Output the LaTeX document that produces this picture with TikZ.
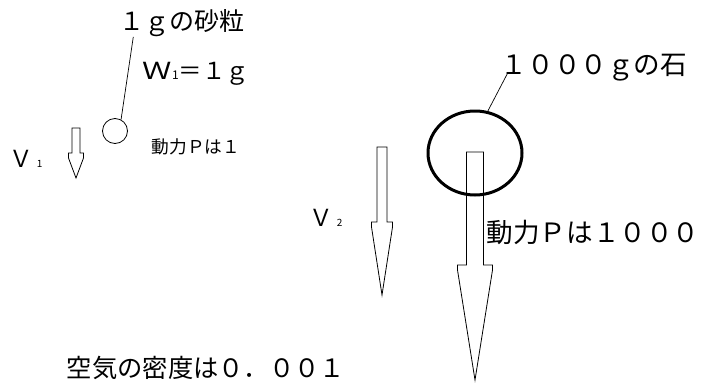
\documentclass[tikz,border=0pt]{standalone}
\usepackage{fontspec}
\setmainfont{Noto Sans CJK JP}
\usetikzlibrary{shapes.geometric,positioning,calc}

% hollow downward arrow: centre x, top, shaft half width, neck, head half width, tip
\newcommand\hollowarrow[6]{%
  \draw[hollow] (#1-#3,#2) -- (#1-#3,#4) -- (#1-#5,#4) -- (#1-#5,#4+5)
    -- (#1,#6) -- (#1+#5,#4+5) -- (#1+#5,#4) -- (#1+#3,#4) -- (#1+#3,#2) -- cycle;}

\begin{document}
\begin{tikzpicture}[
  x=1pt, y=-1pt,
  every node/.style={inner sep=0pt},
  lbl/.style={font=\fontsize{#1}{#1}\selectfont},
  lead/.style={draw=black, line width=0.7pt},
  hollow/.style={draw=black, line width=0.8pt, fill=white, line join=miter}
]
  \useasboundingbox (0,0) rectangle (701,386);

  % sand grain
  \node[circle, draw, line width=0.8pt, minimum size=25pt] (sand) at (115,131) {};
  \node[lbl=25] (sandlabel) at (182,23) {１ｇの砂粒};
  \node[lbl=23.5] (wlabel) at (196,74) {\scalebox{1.25}[1]{Ｗ}{\fontsize{12}{12}\selectfont 1}＝１ｇ};
  \node[lbl=17.7] (sandpower) at (196,147) {動力Ｐは１};
  \node[lbl=23.5] (vone) at (26,159) {Ｖ\,{\fontsize{10}{10}\selectfont 1}};
  \hollowarrow{76}{128}{4}{153}{7.5}{178}

  % stone
  \node[lbl=23.5] (vtwo) at (326,218) {Ｖ\,{\fontsize{10}{10}\selectfont 2}};
  \hollowarrow{382}{147}{5}{222}{10.5}{295}
  \hollowarrow{475}{152}{8.5}{265}{17.5}{380}
  \node[draw, ellipse, line width=3pt, minimum width=94pt, minimum height=84pt] (stone) at (475,153) {};
  \node[lbl=26.6] (stonelabel) at (594,68) {１０００ｇの石};
  \node[lbl=26.6] (stonepower) at (593,232) {動力Ｐは１０００};

  % air
  \node[lbl=25.3] (airlabel) at (206,368) {空気の密度は０．００１};

  % leader lines
  \draw[lead] ([xshift=14pt]sandlabel.south west) -- (sand.62);
  \draw[lead] ([xshift=7pt,yshift=-5pt]stonelabel.west) -- (stone.73);

\end{tikzpicture}
\end{document}
